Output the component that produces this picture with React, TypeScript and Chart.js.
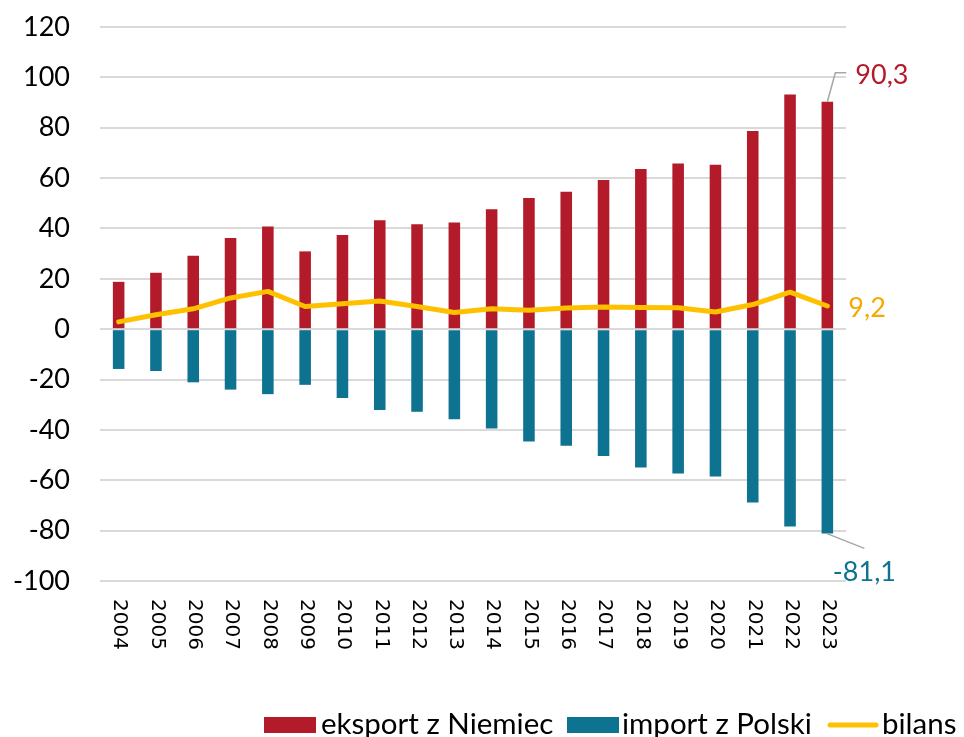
import React, { useEffect, useRef } from 'react';
import { Chart, registerables } from 'chart.js';

Chart.register(...registerables);

const years = ['2004', '2005', '2006', '2007', '2008', '2009', '2010', '2011', '2012', '2013', '2014', '2015', '2016', '2017', '2018', '2019', '2020', '2021', '2022', '2023'];
const eksport = [18.8, 22.4, 29.2, 36.2, 40.8, 30.9, 37.4, 43.3, 41.7, 42.4, 47.6, 52.1, 54.6, 59.2, 63.6, 65.8, 65.3, 78.7, 93.2, 90.3];
const importPL = [-15.8, -16.6, -21.1, -24.0, -25.8, -22.1, -27.3, -32.1, -32.8, -35.8, -39.4, -44.6, -46.3, -50.4, -54.9, -57.3, -58.5, -68.8, -78.4, -81.1];
const bilans = [2.9, 5.7, 8.1, 12.4, 15.0, 9.0, 10.1, 11.2, 9.0, 6.6, 8.1, 7.5, 8.4, 8.8, 8.6, 8.5, 6.8, 9.8, 14.7, 9.2];
const seriesNames = ['eksport z Niemiec', 'import z Polski', 'bilans'];
const lastValueLabels = ['90,3', '-81,1', '9,2'];
const yMin = -100;
const yMax = 120;
const yStep = 20;

const RED = '#B31B2A';
const TEAL = '#0E7391';
const YELLOW = '#FFC000';
const YELLOW_TEXT = '#F5A800';
const GREY = '#A6A6A6';

const customPlugin = {
  id: 'customDecor',
  afterDraw(chart: any) {
    const ctx = chart.ctx as CanvasRenderingContext2D;
    const xs = chart.scales.x;
    const area = chart.chartArea;

    // rotated category labels (reading top to bottom)
    ctx.save();
    ctx.font = '20px "DejaVu Sans"';
    ctx.fillStyle = '#000';
    ctx.textAlign = 'left';
    ctx.textBaseline = 'middle';
    years.forEach((yr, i) => {
      const x = xs.getPixelForTick(i);
      ctx.save();
      ctx.translate(x + 1, area.bottom + 18);
      ctx.rotate(Math.PI / 2);
      ctx.fillText(yr, 0, 0);
      ctx.restore();
    });
    ctx.restore();

    // last value labels with leader lines
    const metaLine = chart.getDatasetMeta(0);
    const metaEks = chart.getDatasetMeta(1);
    const metaImp = chart.getDatasetMeta(2);
    const last = years.length - 1;
    const eb = metaEks.data[last];
    const ib = metaImp.data[last];
    const lp = metaLine.data[last];

    ctx.save();
    ctx.strokeStyle = GREY;
    ctx.lineWidth = 1.5;
    ctx.beginPath();
    ctx.moveTo(eb.x, eb.y);
    ctx.lineTo(eb.x + 8, eb.y - 29);
    ctx.lineTo(eb.x + 19, eb.y - 29);
    ctx.stroke();
    ctx.beginPath();
    ctx.moveTo(ib.x - 1, ib.y);
    ctx.lineTo(ib.x + 37, ib.y + 15);
    ctx.stroke();

    ctx.font = '27px Lato';
    ctx.textBaseline = 'middle';
    ctx.textAlign = 'left';
    ctx.fillStyle = RED;
    ctx.fillText(lastValueLabels[0], eb.x + 28, eb.y - 26);
    ctx.textAlign = 'center';
    ctx.fillStyle = TEAL;
    ctx.fillText(lastValueLabels[1], ib.x + 37, ib.y + 39);
    ctx.textAlign = 'left';
    ctx.fillStyle = YELLOW_TEXT;
    ctx.fillText(lastValueLabels[2], lp.x + 21, lp.y + 2);
    ctx.restore();

    // legend
    ctx.save();
    const cy = 725;
    const base = 734;
    ctx.font = '29.5px Lato';
    ctx.textBaseline = 'alphabetic';
    ctx.textAlign = 'left';
    ctx.fillStyle = RED;
    ctx.fillRect(264, cy - 8, 52, 16);
    ctx.fillStyle = '#000';
    ctx.fillText(seriesNames[0], 321, base);
    ctx.fillStyle = TEAL;
    ctx.fillRect(567, cy - 8, 52, 16);
    ctx.fillStyle = '#000';
    ctx.fillText(seriesNames[1], 622, base);
    ctx.strokeStyle = YELLOW;
    ctx.lineWidth = 5;
    ctx.lineCap = 'round';
    ctx.beginPath();
    ctx.moveTo(830, cy);
    ctx.lineTo(876, cy);
    ctx.stroke();
    ctx.fillText(seriesNames[2], 882, base);
    ctx.restore();
  },
};

export default function App() {
  const ref = useRef<HTMLCanvasElement | null>(null);

  useEffect(() => {
    if (!ref.current) return;
    Chart.defaults.font.family = 'Lato';
    const chart = new Chart(ref.current, {
      type: 'bar',
      data: {
        labels: years,
        datasets: [
          {
            type: 'line',
            label: seriesNames[2],
            data: bilans,
            borderColor: YELLOW,
            backgroundColor: YELLOW,
            borderWidth: 5,
            pointRadius: 0,
            tension: 0,
            borderJoinStyle: 'round',
            borderCapStyle: 'round',
            stack: 'line',
            order: 0,
          } as any,
          {
            label: seriesNames[0],
            data: eksport,
            backgroundColor: RED,
            stack: 'bars',
            barPercentage: 0.31,
            categoryPercentage: 1,
            order: 1,
          },
          {
            label: seriesNames[1],
            data: importPL,
            backgroundColor: TEAL,
            stack: 'bars',
            barPercentage: 0.31,
            categoryPercentage: 1,
            order: 1,
          },
        ],
      },
      options: {
        animation: false,
        responsive: false,
        maintainAspectRatio: false,
        layout: { padding: { top: 27, right: 118, left: 0, bottom: 0 } },
        plugins: { legend: { display: false }, tooltip: { enabled: false } },
        scales: {
          x: {
            stacked: true,
            grid: { display: false },
            border: { display: false },
            ticks: { display: false },
            afterFit: (s: any) => { s.height = 156; },
          },
          y: {
            stacked: true,
            min: yMin,
            max: yMax,
            ticks: {
              stepSize: yStep,
              padding: 0,
              color: '#000',
              font: { family: 'Lato', size: 27 },
              callback: (v: any) => String(v),
            },
            grid: {
              color: '#D9D9D9',
              lineWidth: 2,
              drawTicks: true,
              tickLength: 30,
              tickColor: 'rgba(0,0,0,0)',
            },
            border: { display: false },
            afterFit: (s: any) => { s.width = 100; },
          },
        },
      },
      plugins: [customPlugin],
    });
    return () => chart.destroy();
  }, []);

  return (
    <div style={{ position: 'fixed', left: 0, top: 0, width: 964, height: 737, background: '#fff' }}>
      <canvas ref={ref} width={964} height={737} />
    </div>
  );
}
